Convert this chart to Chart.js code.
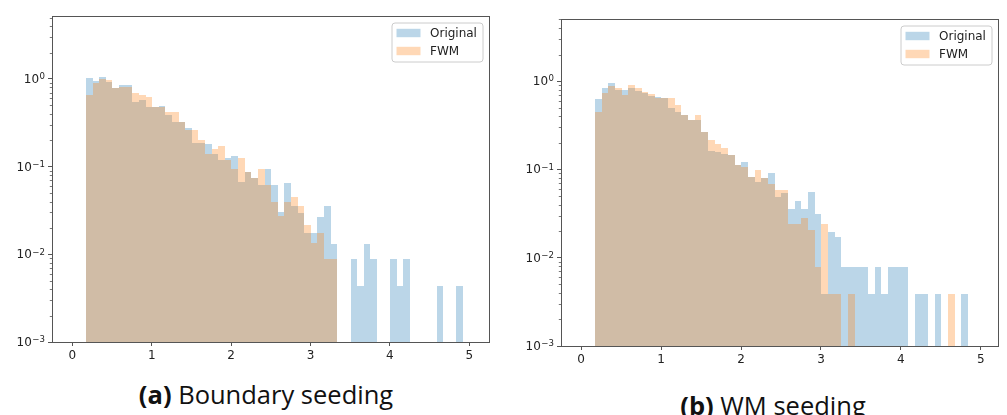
<!DOCTYPE html>
<html><head><meta charset="utf-8">
<script src="https://cdn.jsdelivr.net/npm/chart.js"></script>
<style>
html,body{margin:0;padding:0;background:#fff;width:1007px;height:415px;overflow:hidden;position:relative}
.panel{position:absolute}
.cap{position:absolute;font-family:'Open Sans';font-size:25.5px;line-height:1;white-space:nowrap;color:#111;transform:translateX(-50%)}
.cap b{font-weight:700}
</style></head><body>
<div class="panel" style="left:0;top:0;width:500px;height:370px"><canvas id="ca"></canvas></div>
<div class="panel" style="left:509px;top:0;width:498px;height:374px"><canvas id="cb"></canvas></div>
<div class="cap" style="left:266px;top:382px"><b>(a)</b> Boundary seeding</div>
<div class="cap" style="left:773px;top:393px"><b>(b)</b> WM seeding</div>
<script>
// ---- data ----
const BIN_START = 0.172;
const BIN_WIDTH = 0.0833;
const X_TICKS = [0, 1, 2, 3, 4, 5];
const X_TICK_LABELS = ['0', '1', '2', '3', '4', '5'];
const Y_TICKS = [0.001, 0.01, 0.1, 1];
const Y_TICK_BASE = '10';
const Y_TICK_EXPONENTS = ['−3', '−2', '−1', '0'];
const Y_MINOR_MULT = [2, 3, 4, 5, 6, 7, 8, 9];
const SERIES_NAMES = ['Original', 'FWM'];

// (a) Boundary seeding
const originalA = [1.02, 0.95, 1.04, 0.93, 0.78, 0.855, 0.855, 0.55, 0.576, 0.484,
  0.484, 0.497, 0.389, 0.326, 0.326, 0.279, 0.188, 0.185, 0.180, 0.140,
  0.118, 0.125, 0.133, 0.0675, 0.086, 0.075, 0.0619, 0.094, 0.0619, 0.0307,
  0.0658, 0.0351, 0.0295, 0.0174, 0.0174, 0.0265, 0.0351, 0.0130, null, null,
  0.0088, 0.0044, 0.0130, 0.0088, null, null, 0.0088, 0.0044, 0.0088, null,
  null, null, null, 0.0044, null, null, 0.0044];
const fwmA = [0.663, 0.893, 0.99, 0.97, 0.78, 0.818, 0.818, 0.70, 0.657, 0.618,
  0.484, 0.476, 0.417, 0.417, 0.326, 0.262, 0.262, 0.202, 0.140, 0.158,
  0.171, 0.120, 0.094, 0.124, 0.086, 0.075, 0.094, 0.0619, 0.040, 0.027,
  0.040, 0.0445, 0.0351, 0.0216, 0.0134, 0.0174, 0.0088, 0.0088];

// (b) WM seeding
const originalB = [0.62, 0.826, 0.957, 0.79, 0.79, 0.826, 0.777, 0.725, 0.68, 0.665,
  0.636, 0.49, 0.45, 0.41, 0.362, 0.362, 0.265, 0.163, 0.158, 0.15,
  0.145, 0.112, 0.122, 0.0824, 0.072, 0.08, 0.091, 0.049, 0.054, 0.0355,
  0.0437, 0.0355, 0.055, 0.0316, 0.0039, 0.0197, 0.0173, 0.0078, 0.0078, 0.0078,
  0.0078, 0.0039, 0.0078, 0.0039, 0.0078, 0.0078, 0.0078, null, 0.0039, 0.0039,
  null, 0.0039, null, null, null, 0.0039];
const fwmB = [0.45, 0.725, 0.878, 0.826, 0.69, 0.90, 0.826, 0.757, 0.706, 0.65,
  0.636, 0.636, 0.535, 0.41, 0.362, 0.41, 0.265, 0.214, 0.195, 0.175,
  0.145, 0.112, 0.107, 0.0824, 0.098, 0.08, 0.069, 0.058, 0.058, 0.0238,
  0.0238, 0.0278, 0.0205, 0.0078, 0.0238, 0.0039, 0.0039, null, 0.0039, null,
  null, null, null, null, null, null, null, null, null, null,
  null, null, null, 0.0039];

// ---- styles ----
const COLORS = ['rgba(31,119,180,0.3)', 'rgba(255,127,14,0.3)'];
const TICK_FONT = {family: 'DejaVu Sans', size: 12};
const TEXT_COLOR = '#222';
const SPINE_COLOR = '#555';

function toPoints(arr) {
  const pts = [];
  arr.forEach((v, i) => { if (v !== null) pts.push({x: BIN_START + (i + 0.5) * BIN_WIDTH, y: v}); });
  return pts;
}

// snap bar edges to whole pixels so adjacent bins do not show seams
const snapPlugin = {
  id: 'snap',
  beforeDatasetsDraw(chart) {
    chart.getSortedVisibleDatasetMetas().forEach(meta => {
      meta.data.forEach(el => {
        const l = Math.round(el.x - el.width / 2), r = Math.round(el.x + el.width / 2);
        el.x = (l + r) / 2; el.width = r - l;
        el.y = Math.round(el.y); el.base = Math.round(el.base);
      });
    });
  }
};

const framePlugin = {
  id: 'frame',
  afterDraw(chart) {
    const {ctx, chartArea: a, scales: {y}} = chart;
    ctx.save();
    // minor log ticks
    ctx.strokeStyle = SPINE_COLOR; ctx.lineWidth = 0.8;
    const lo = Math.round(Math.log10(y.min)), hi = Math.ceil(Math.log10(y.max));
    for (let k = lo; k < hi; k++) {
      Y_MINOR_MULT.forEach(m => {
        const v = m * Math.pow(10, k);
        if (v <= y.max && v >= y.min) {
          const py = Math.round(y.getPixelForValue(v)) + 0.5;
          ctx.beginPath(); ctx.moveTo(a.left - 2.2, py); ctx.lineTo(a.left, py); ctx.stroke();
        }
      });
    }
    // y tick labels: 10 with superscript exponent
    ctx.fillStyle = TEXT_COLOR;
    Y_TICKS.forEach((v, i) => {
      const py = y.getPixelForValue(v);
      const xr = a.left - 7;
      ctx.font = '8.6px "DejaVu Sans"';
      ctx.textAlign = 'right'; ctx.textBaseline = 'alphabetic';
      const ew = ctx.measureText(Y_TICK_EXPONENTS[i]).width;
      ctx.fillText(Y_TICK_EXPONENTS[i], xr, py + 0.3);
      ctx.font = '12px "DejaVu Sans"';
      ctx.textBaseline = 'middle';
      ctx.fillText(Y_TICK_BASE, xr - ew - 0.5, py + 0.8);
    });
    // spines
    ctx.strokeStyle = SPINE_COLOR;
    ctx.lineWidth = 1;
    ctx.strokeRect(Math.round(a.left) + 0.5, Math.round(a.top) + 0.5,
      Math.round(a.right) - Math.round(a.left), Math.round(a.bottom) - Math.round(a.top));
    // legend
    const W = 91, H = 39, M = 6.5;
    const bx = a.right - M - W, by = a.top + M;
    ctx.beginPath();
    ctx.roundRect(bx + 0.5, by + 0.5, W, H, 3);
    ctx.fillStyle = 'rgba(255,255,255,0.8)'; ctx.fill();
    ctx.strokeStyle = '#cccccc'; ctx.stroke();
    chart.data.datasets.slice().sort((p, q) => p.legendIndex - q.legendIndex).forEach((ds, i) => {
      const cy = by + 10.5 + i * 18;
      ctx.fillStyle = ds.backgroundColor;
      ctx.fillRect(bx + 5, cy - 4.2, 24, 8.4);
      ctx.fillStyle = TEXT_COLOR;
      ctx.font = '12px "DejaVu Sans"';
      ctx.textAlign = 'left';
      ctx.textBaseline = 'middle';
      ctx.fillText(ds.label, bx + 38.5, cy + 0.5);
    });
    ctx.restore();
  }
};

function makeChart(id, orig, fwm, xmin, xmax, ymax, pad) {
  const common = {grouped: false, barPercentage: 1, categoryPercentage: 1, inflateAmount: 0, borderWidth: 0};
  return new Chart(document.getElementById(id), {
    type: 'bar',
    data: {
      datasets: [
        Object.assign({label: SERIES_NAMES[0], data: toPoints(orig), backgroundColor: COLORS[0], order: 1, legendIndex: 0}, common),
        Object.assign({label: SERIES_NAMES[1], data: toPoints(fwm), backgroundColor: COLORS[1], order: 0, legendIndex: 1}, common)
      ]
    },
    options: {
      responsive: true, maintainAspectRatio: false, animation: false,
      layout: {padding: pad},
      plugins: {legend: {display: false}, tooltip: {enabled: false}},
      scales: {
        x: {
          type: 'linear', min: xmin, max: xmax, offset: false,
          afterBuildTicks: s => { s.ticks = X_TICKS.map(v => ({value: v})); },
          afterFit: s => { s.height = 28; },
          ticks: {font: TICK_FONT, color: TEXT_COLOR, padding: 3, maxRotation: 0, autoSkip: false,
            callback: (v, i) => X_TICK_LABELS[i]},
          grid: {drawOnChartArea: false, drawTicks: true, tickLength: 4, color: SPINE_COLOR, offset: false},
          border: {display: false}
        },
        y: {
          type: 'logarithmic', min: 0.001, max: ymax,
          afterBuildTicks: s => { s.ticks = Y_TICKS.map(v => ({value: v})); },
          afterFit: s => { s.width = 52; },
          ticks: {display: false, autoSkip: false},
          grid: {drawOnChartArea: false, drawTicks: true, tickLength: 4, color: SPINE_COLOR},
          border: {display: false}
        }
      }
    },
    plugins: [snapPlugin, framePlugin]
  });
}

makeChart('ca', originalA, fwmA, -0.256, 5.248, 5.22, {left: 0, right: 11, top: 16, bottom: 0});
makeChart('cb', originalB, fwmB, -0.252, 5.214, 5.05, {left: 0, right: 9, top: 19, bottom: 0});
</script>
</body></html>
